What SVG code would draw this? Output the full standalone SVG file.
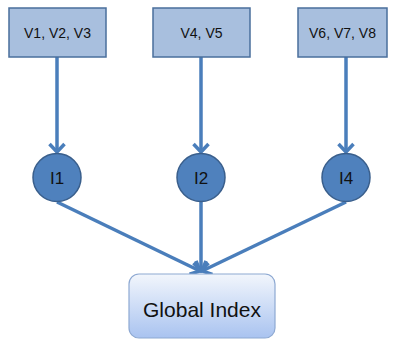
<svg xmlns="http://www.w3.org/2000/svg" width="393" height="342" viewBox="0 0 393 342">
<defs>
<style>
.vbox{fill:#a8bfde;stroke:#4a6f9c;stroke-width:1.5}
.circ{fill:#4f81bd;stroke:#3a5f8c;stroke-width:1.5}
.lbl{font-family:"Liberation Sans",Arial,sans-serif;fill:#111;text-anchor:middle}
.conn{stroke:#4a7ebb;stroke-width:3.5;fill:none;marker-end:url(#arr)}
</style>
<marker id="arr" markerUnits="userSpaceOnUse" viewBox="-12 -10 14 20" markerWidth="14" markerHeight="20" refX="0" refY="0" orient="auto">
<path d="M-8,-7.5 L0,0 L-8,7.5" fill="none" stroke="#4a7ebb" stroke-width="3.5" stroke-linejoin="miter"/>
</marker>
<linearGradient id="gi" x1="0" y1="0" x2="0" y2="1">
<stop offset="0" stop-color="#f2f6fc"/>
<stop offset="1" stop-color="#a9c3f0"/>
</linearGradient>
</defs>
<g id="connectors">
<line class="conn" x1="57" y1="57" x2="57" y2="152"/>
<line class="conn" x1="201" y1="57" x2="201" y2="152"/>
<line class="conn" x1="346" y1="57" x2="346" y2="152"/>
<line class="conn" x1="57" y1="202" x2="200" y2="271"/>
<line class="conn" x1="201" y1="202" x2="201" y2="271"/>
<line class="conn" x1="346" y1="202" x2="202" y2="271"/>
</g>
<g id="v123">
<rect class="vbox" x="9" y="8" width="97" height="49"/>
<text class="lbl" x="57.5" y="38" font-size="14">V1, V2, V3</text>
</g>
<g id="v45">
<rect class="vbox" x="153" y="8" width="97" height="49"/>
<text class="lbl" x="201.5" y="38" font-size="14">V4, V5</text>
</g>
<g id="v678">
<rect class="vbox" x="298" y="8" width="89" height="49"/>
<text class="lbl" x="342.5" y="38" font-size="14">V6, V7, V8</text>
</g>
<g id="i1">
<circle class="circ" cx="57" cy="177.5" r="24"/>
<text class="lbl" x="57" y="184" font-size="17">I1</text>
</g>
<g id="i2">
<circle class="circ" cx="201" cy="177.5" r="24"/>
<text class="lbl" x="201" y="184" font-size="17">I2</text>
</g>
<g id="i4">
<circle class="circ" cx="346" cy="177.5" r="24"/>
<text class="lbl" x="346" y="184" font-size="17">I4</text>
</g>
<g id="global">
<rect x="129" y="274" width="146" height="64" rx="10" ry="10" fill="url(#gi)" stroke="#8ea9d2" stroke-width="1.2"/>
<text class="lbl" x="202" y="317" font-size="21">Global Index</text>
</g>
</svg>
